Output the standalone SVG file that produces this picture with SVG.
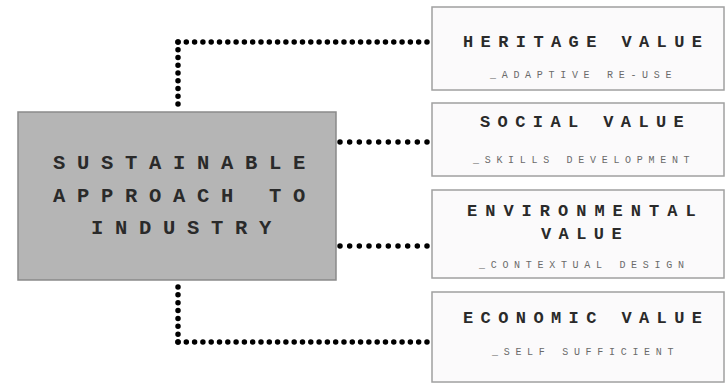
<svg xmlns="http://www.w3.org/2000/svg" width="726" height="383" viewBox="0 0 726 383">
<style>
.bg{fill:#ffffff}
.main{fill:#b5b5b5;stroke:#8a8a8a;stroke-width:1.5}
.val{fill:#fbfafb;stroke:#a0a0a0;stroke-width:1.5}
.dot{stroke:#000;stroke-width:5.5;stroke-linecap:round;fill:none}
.t{font-family:"Liberation Mono","DejaVu Sans Mono",monospace;font-weight:bold;fill:#2a2a2a}
.ct{font-size:20.5px;letter-spacing:11.7px}
.vt{font-size:17px;letter-spacing:7.4px}
.st{font-family:"Liberation Mono","DejaVu Sans Mono",monospace;font-size:10px;letter-spacing:5.7px;fill:#6a6a6a}
</style>
<rect class="bg" x="0" y="0" width="726" height="383"/>
<g id="connectors">
<line class="dot" x1="178" y1="104" x2="178" y2="42" stroke-dasharray="0 7.749"/>
<line class="dot" x1="178" y1="42" x2="427" y2="42" stroke-dasharray="0 8.299"/>
<line class="dot" x1="340" y1="142" x2="427" y2="142" stroke-dasharray="0 9.666"/>
<line class="dot" x1="340" y1="246" x2="427" y2="246" stroke-dasharray="0 9.666"/>
<line class="dot" x1="178" y1="287" x2="178" y2="342" stroke-dasharray="0 7.856"/>
<line class="dot" x1="178" y1="342" x2="427" y2="342" stroke-dasharray="0 8.299"/>
</g>
<g id="main">
<rect class="main" x="18" y="112" width="318" height="168"/>
<text class="t ct" x="53" y="169">SUSTAINABLE</text>
<text class="t ct" x="53" y="202">APPROACH TO</text>
<text class="t ct" x="91" y="234">INDUSTRY</text>
</g>
<g id="heritage">
<rect class="val" x="432" y="7" width="292" height="83"/>
<text class="t vt" x="463" y="47">HERITAGE VALUE</text>
<text class="st" x="490" y="78">_ADAPTIVE RE-USE</text>
</g>
<g id="social">
<rect class="val" x="432" y="103" width="292" height="73"/>
<text class="t vt" x="480" y="127">SOCIAL VALUE</text>
<text class="st" x="473" y="163">_SKILLS DEVELOPMENT</text>
</g>
<g id="environmental">
<rect class="val" x="432" y="190" width="292" height="88"/>
<text class="t vt" x="467" y="216" style="letter-spacing:8.0px">ENVIRONMENTAL</text>
<text class="t vt" x="541" y="239">VALUE</text>
<text class="st" x="479" y="268">_CONTEXTUAL DESIGN</text>
</g>
<g id="economic">
<rect class="val" x="432" y="292" width="292" height="90"/>
<text class="t vt" x="463" y="323">ECONOMIC VALUE</text>
<text class="st" x="492" y="355">_SELF SUFFICIENT</text>
</g>
</svg>
